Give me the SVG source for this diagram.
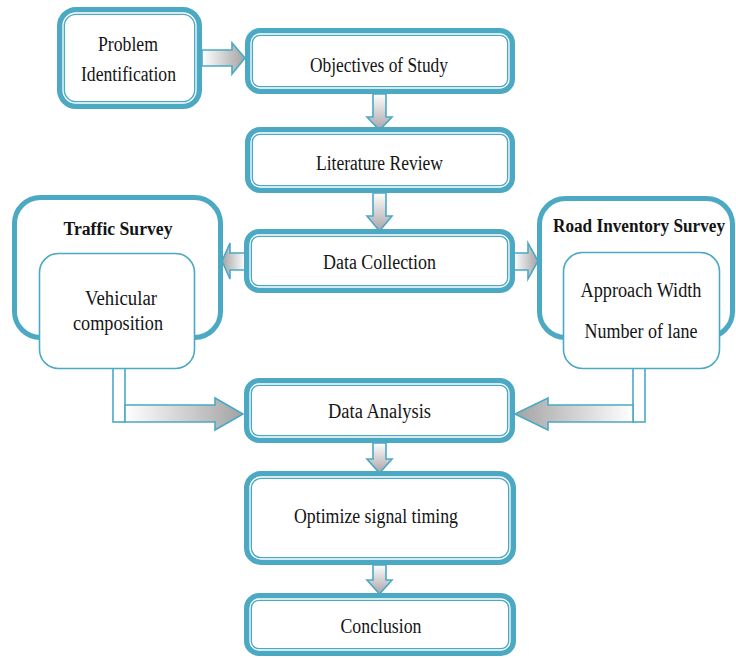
<svg xmlns="http://www.w3.org/2000/svg" width="736" height="658" viewBox="0 0 736 658">
  <style>
    .outer { fill: #ffffff; stroke: #4ba9c3; stroke-width: 8; }
    .gap { fill: none; stroke: #ffffff; stroke-width: 1.3; }
    .frame { fill: #ffffff; stroke: #4ba9c3; stroke-width: 5; }
    .inner { fill: #ffffff; stroke: #4ba9c3; stroke-width: 1.6; }
    .arrow { stroke: #4ba9c3; stroke-width: 1.6; stroke-linejoin: miter; }
    .strip { fill: #ffffff; stroke: #4ba9c3; stroke-width: 1.6; }
    text { font-family: "Liberation Serif", "Times New Roman", serif; font-size: 20.5px; fill: #141414; text-anchor: middle; }
    .bold { font-weight: bold; font-size: 18.5px; }
  </style>
  <defs>
    <linearGradient id="gRight" x1="0" y1="0" x2="1" y2="0">
      <stop offset="0" stop-color="#ffffff"/>
      <stop offset="1" stop-color="#a3a3a3"/>
    </linearGradient>
    <linearGradient id="gLeft" x1="1" y1="0" x2="0" y2="0">
      <stop offset="0" stop-color="#ffffff"/>
      <stop offset="1" stop-color="#a3a3a3"/>
    </linearGradient>
    <linearGradient id="gDown" x1="0" y1="0" x2="0" y2="1">
      <stop offset="0" stop-color="#ffffff"/>
      <stop offset="1" stop-color="#a9a3a8"/>
    </linearGradient>
  </defs>

  <rect width="736" height="658" fill="#ffffff"/>

  <!-- connectors -->
  <g id="connectors">
    <path class="arrow" fill="url(#gRight)" d="M202,50 H232 V43 L245,58 L232,74 V66 H202 Z"/>
    <path class="arrow" fill="url(#gDown)" d="M373,94 H386 V117 H392 L379.5,130 L367,117 H373 Z"/>
    <path class="arrow" fill="url(#gDown)" d="M373,193 H386 V216 H392 L379.5,231 L367,216 H373 Z"/>
    <path class="arrow" fill="url(#gLeft)" d="M245,253 H230 V243 L222,261 L230,279 V270 H245 Z"/>
    <path class="arrow" fill="url(#gRight)" d="M514,253 H528 V243 L538,261 L528,279 V270 H514 Z"/>
    <rect class="strip" x="113" y="364" width="12" height="58"/>
    <path class="arrow" fill="url(#gRight)" d="M125,405 H215 V398 L243,414 L215,430 V422 H125 Z"/>
    <rect class="strip" x="633" y="364" width="12" height="58"/>
    <path class="arrow" fill="url(#gLeft)" d="M633,405 H548 V398 L515,414 L548,430 V422 H633 Z"/>
    <path class="arrow" fill="url(#gDown)" d="M373,443 H386 V459 H392 L379.5,473 L367,459 H373 Z"/>
    <path class="arrow" fill="url(#gDown)" d="M373,565 H386 V580 H392 L379.5,594 L367,580 H373 Z"/>
  </g>

  <!-- process steps -->
  <g id="problem-identification">
    <rect class="outer" x="61" y="11" width="137" height="94" rx="15"/>
    <rect class="gap" x="63" y="13" width="133" height="90" rx="13"/>
    <text x="128" y="51" textLength="60" lengthAdjust="spacingAndGlyphs">Problem</text>
    <text x="128.5" y="81" textLength="95" lengthAdjust="spacingAndGlyphs">Identification</text>
  </g>

  <g id="objectives">
    <rect class="outer" x="249" y="32" width="262" height="58" rx="11"/>
    <rect class="gap" x="251" y="34" width="258" height="54" rx="9"/>
    <text x="379" y="72" textLength="138" lengthAdjust="spacingAndGlyphs">Objectives of Study</text>
  </g>

  <g id="literature-review">
    <rect class="outer" x="249" y="131" width="262" height="58" rx="11"/>
    <rect class="gap" x="251" y="133" width="258" height="54" rx="9"/>
    <text x="379.5" y="170" textLength="127" lengthAdjust="spacingAndGlyphs">Literature Review</text>
  </g>

  <g id="data-collection">
    <rect class="outer" x="248" y="233" width="263" height="56" rx="11"/>
    <rect class="gap" x="250" y="235" width="259" height="52" rx="9"/>
    <text x="379.5" y="269" textLength="113" lengthAdjust="spacingAndGlyphs">Data Collection</text>
  </g>

  <g id="traffic-survey">
    <rect class="frame" x="14.5" y="197.5" width="206" height="140" rx="26"/>
    <text class="bold" x="118" y="235" textLength="109" lengthAdjust="spacingAndGlyphs">Traffic Survey</text>
    <rect class="inner" x="39.5" y="253.5" width="155" height="115" rx="19"/>
    <text x="121" y="305" textLength="72" lengthAdjust="spacingAndGlyphs">Vehicular</text>
    <text x="118" y="330" textLength="90" lengthAdjust="spacingAndGlyphs">composition</text>
  </g>

  <g id="road-inventory-survey">
    <rect class="frame" x="539.5" y="198.5" width="193" height="139" rx="26"/>
    <text class="bold" x="639" y="232" textLength="172" lengthAdjust="spacingAndGlyphs">Road Inventory Survey</text>
    <rect class="inner" x="563.5" y="252.5" width="156" height="116" rx="19"/>
    <text x="641" y="297" textLength="121" lengthAdjust="spacingAndGlyphs">Approach Width</text>
    <text x="641" y="338" textLength="113" lengthAdjust="spacingAndGlyphs">Number of lane</text>
  </g>

  <g id="data-analysis">
    <rect class="outer" x="248" y="382" width="263" height="57" rx="11"/>
    <rect class="gap" x="250" y="384" width="259" height="53" rx="9"/>
    <text x="379.5" y="418" textLength="103" lengthAdjust="spacingAndGlyphs">Data Analysis</text>
  </g>

  <g id="optimize-signal-timing">
    <rect class="outer" x="248" y="475" width="264" height="86" rx="13"/>
    <rect class="gap" x="250" y="477" width="260" height="82" rx="11"/>
    <text x="376" y="523" textLength="164" lengthAdjust="spacingAndGlyphs">Optimize signal timing</text>
  </g>

  <g id="conclusion">
    <rect class="outer" x="248" y="597" width="264" height="55" rx="11"/>
    <rect class="gap" x="250" y="599" width="260" height="51" rx="9"/>
    <text x="381" y="633" textLength="81" lengthAdjust="spacingAndGlyphs">Conclusion</text>
  </g>
</svg>
